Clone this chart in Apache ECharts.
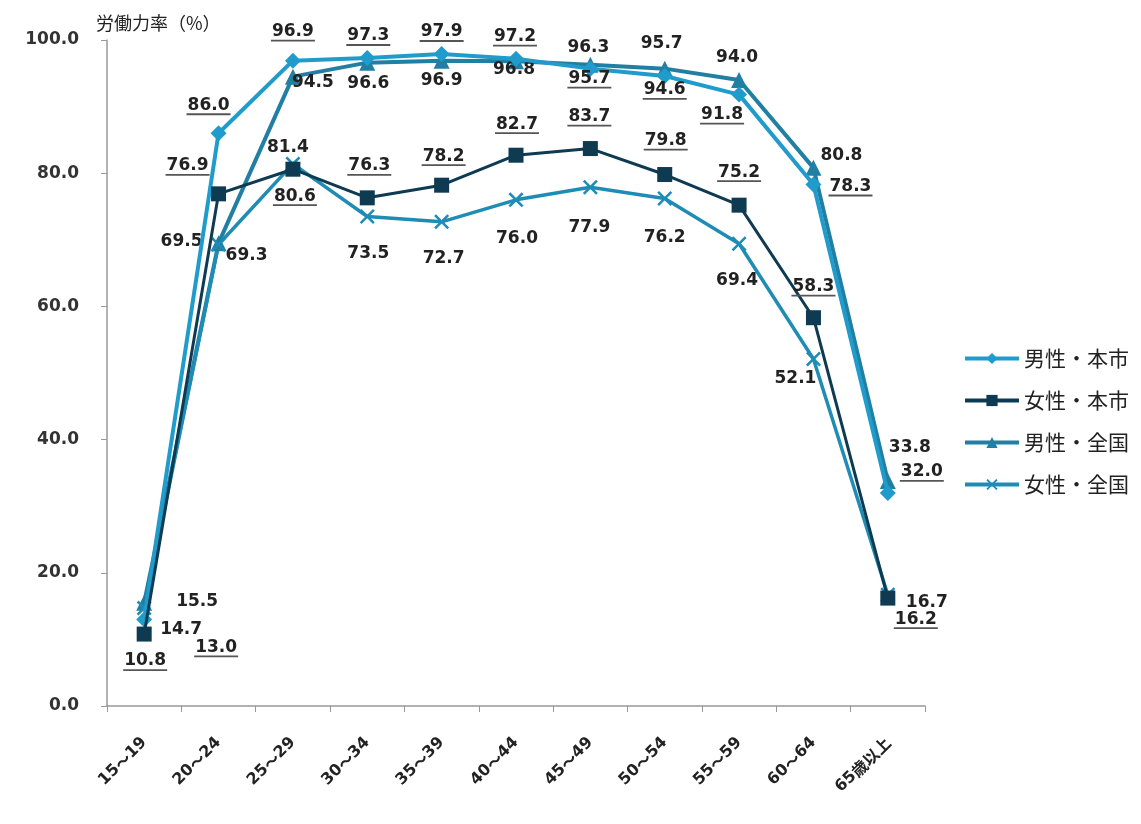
<!DOCTYPE html>
<html>
<head>
<meta charset="utf-8">
<script src="https://cdn.jsdelivr.net/npm/echarts@6/dist/echarts.min.js"></script>
<style>
  html, body { margin: 0; padding: 0; background: #ffffff; }
  #chart { width: 1141px; height: 824px; }
</style>
</head>
<body>
<div id="chart"></div>
<script>
// Age groups and labour force participation rates (%)
const ageGroups = ['15～19', '20～24', '25～29', '30～34', '35～39', '40～44', '45～49', '50～54', '55～59', '60～64', '65歳以上'];
const maleCity      = [13.0, 86.0, 96.9, 97.3, 97.9, 97.2, 95.7, 94.6, 91.8, 78.3, 32.0];
const femaleCity    = [10.8, 76.9, 80.6, 76.3, 78.2, 82.7, 83.7, 79.8, 75.2, 58.3, 16.2];
const maleNational  = [15.5, 69.5, 94.5, 96.6, 96.9, 96.8, 96.3, 95.7, 94.0, 80.8, 33.8];
const femaleNational= [14.7, 69.3, 81.4, 73.5, 72.7, 76.0, 77.9, 76.2, 69.4, 52.1, 16.7];
const seriesNames = ['男性・本市', '女性・本市', '男性・全国', '女性・全国'];
const yTicks = [0, 20, 40, 60, 80, 100];

// Label placement (pixel offsets from each point) so the labels do not collide
const labelShift = {
  maleCity:       [[72, 29], [-10, -27], [0, -28], [1, -21], [0, -21], [-1, -21], [-1, 11], [0, 15], [-17, 21], [37, 3], [34, -20]],
  femaleCity:     [[1, 28], [-31, -27], [2, 28], [2, -31], [2, -28], [1, -30], [-1, -31], [1, -33], [0, -32], [0, -30], [28, 22]],
  maleNational:   [[53, -1], [-37, -2], [20, 6], [1, 21], [0, 20], [-2, 8], [-2, -17], [-3, -25], [-2, -22], [28, -12], [22, -33]],
  femaleNational: [[37, 21], [28, 11], [-5, -16], [1, 37], [2, 37], [1, 39], [-1, 40], [0, 39], [-2, 37], [-18, 20], [39, 8]]
};

const labelFont = "'DejaVu Sans', sans-serif";
const cjkFont = "'Noto Sans CJK JP', sans-serif";
const valueSize = 17;

function buildData(values, shifts) {
  return values.map((v, i) => ({
    value: v,
    label: { offset: shifts[i] }
  }));
}

function makeLabel(underlined) {
  const base = {
    show: true,
    position: 'inside',
    align: 'center',
    verticalAlign: 'middle',
    color: '#222',
    fontFamily: labelFont,
    fontWeight: 'bold',
    fontSize: valueSize
  };
  if (underlined) {
    base.formatter = p => '{v|' + p.value.toFixed(1) + '}\n{u| }';
    base.rich = {
      v: { fontFamily: labelFont, fontWeight: 'bold', fontSize: valueSize, lineHeight: 16, color: '#222' },
      u: { width: 44, height: 1.8, lineHeight: 2, fontSize: 1, backgroundColor: '#555' }
    };
  } else {
    base.formatter = p => p.value.toFixed(1);
  }
  return base;
}

// Category labels: digits in a bold latin face, the wave dash and kanji in the CJK face
function formatAge(s) {
  return s.replace(/([0-9]+)|([^0-9]+)/g, (m, num, other) =>
    num ? '{n|' + num + '}' : '{c|' + other + '}');
}

const crossSymbol = 'path://M0,1.2 L1.2,0 L5,3.8 L8.8,0 L10,1.2 L6.2,5 L10,8.8 L8.8,10 L5,6.2 L1.2,10 L0,8.8 L3.8,5 Z';

const chart = echarts.init(document.getElementById('chart'), null, { renderer: 'canvas' });

chart.setOption({
  backgroundColor: '#ffffff',
  animation: false,
  title: {
    text: '労働力率（%）',
    left: 91,
    top: 9,
    textStyle: { fontFamily: cjkFont, fontWeight: 'normal', fontSize: 18, color: '#222' }
  },
  legend: {
    orient: 'vertical',
    left: 958,
    top: 343,
    itemWidth: 54,
    itemHeight: 14,
    itemGap: 21,
    data: seriesNames,
    lineStyle: { width: 4 },
    textStyle: { fontFamily: cjkFont, fontSize: 21, color: '#222' }
  },
  grid: { left: 107, right: 216, top: 40, bottom: 118 },
  xAxis: {
    type: 'category',
    data: ageGroups,
    boundaryGap: true,
    axisLine: { lineStyle: { color: '#999', width: 1.5 } },
    axisTick: { show: true, length: 6, lineStyle: { color: '#999' } },
    axisLabel: {
      rotate: 45,
      margin: 34,
      color: '#222',
      interval: 0,
      formatter: v => formatAge(v),
      rich: {
        n: { fontFamily: labelFont, fontWeight: 'bold', fontSize: 16, color: '#222' },
        c: { fontFamily: cjkFont, fontWeight: 'bold', fontSize: 16, color: '#222' }
      }
    }
  },
  yAxis: {
    type: 'value',
    min: yTicks[0],
    max: yTicks[yTicks.length - 1],
    interval: yTicks[1] - yTicks[0],
    splitLine: { show: false },
    axisLine: { show: true, lineStyle: { color: '#999', width: 1.5 } },
    axisTick: { show: true, length: 6, lineStyle: { color: '#999' } },
    axisLabel: {
      margin: 28,
      color: '#333',
      fontFamily: labelFont,
      fontWeight: 'bold',
      fontSize: 17,
      formatter: v => v.toFixed(1)
    }
  },
  series: [
    {
      name: seriesNames[0],
      type: 'line',
      data: buildData(maleCity, labelShift.maleCity),
      symbol: 'diamond',
      symbolSize: 16,
      color: '#1f9ccc',
      lineStyle: { width: 4, color: '#1f9ccc' },
      itemStyle: { color: '#1f9ccc' },
      label: makeLabel(true),
      z: 3
    },
    {
      name: seriesNames[1],
      type: 'line',
      data: buildData(femaleCity, labelShift.femaleCity),
      symbol: 'rect',
      symbolSize: 15,
      color: '#0e3a52',
      lineStyle: { width: 3, color: '#0e3a52' },
      itemStyle: { color: '#0e3a52' },
      label: makeLabel(true),
      z: 4
    },
    {
      name: seriesNames[2],
      type: 'line',
      data: buildData(maleNational, labelShift.maleNational),
      symbol: 'triangle',
      symbolSize: 16,
      color: '#207fa2',
      lineStyle: { width: 4, color: '#207fa2' },
      itemStyle: { color: '#207fa2' },
      label: makeLabel(false),
      z: 2
    },
    {
      name: seriesNames[3],
      type: 'line',
      data: buildData(femaleNational, labelShift.femaleNational),
      symbol: crossSymbol,
      symbolSize: 15,
      color: '#1e8cb4',
      lineStyle: { width: 3.5, color: '#1e8cb4' },
      itemStyle: { color: '#1e8cb4' },
      label: makeLabel(false),
      z: 2
    }
  ]
});
</script>
</body>
</html>
